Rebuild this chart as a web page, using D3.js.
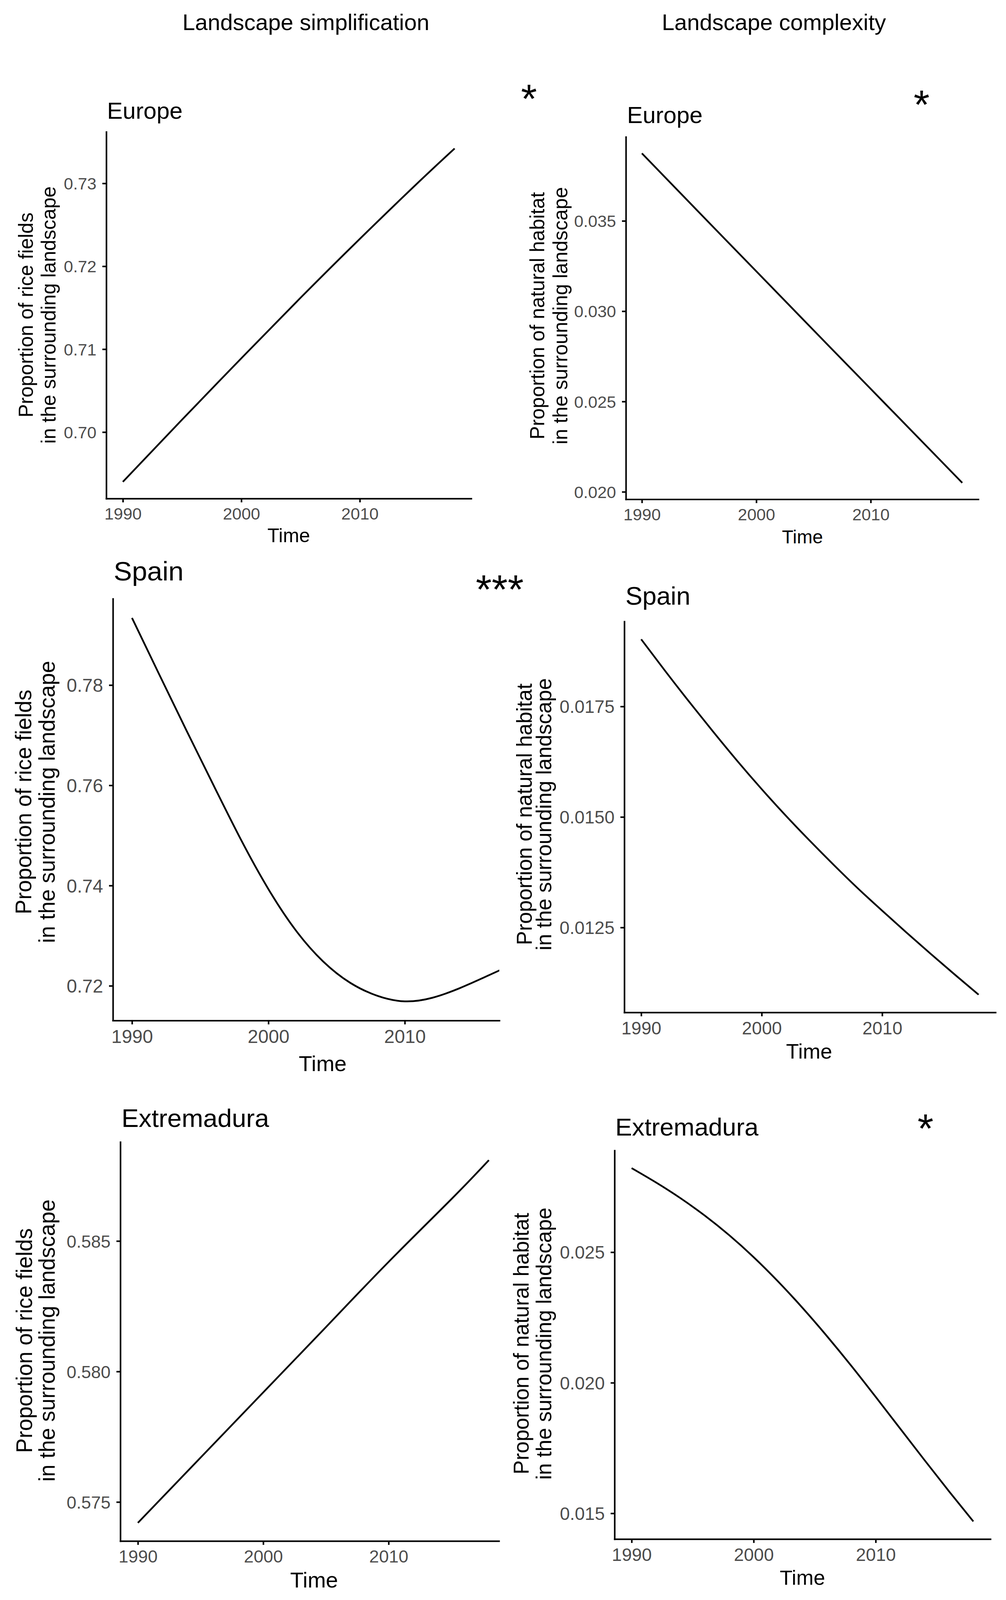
<!DOCTYPE html>
<html lang="en">
<head>
  <meta charset="UTF-8">
  <title>Landscape simplification and complexity over time</title>
  <script src="https://d3js.org/d3.v7.min.js"></script>
  <style>
    html, body { margin: 0; padding: 0; background: #fff; overflow: hidden; }
    svg { display: block; width: 100vw; height: 100vh; font-family: "Liberation Sans", Arial, Helvetica, sans-serif; }
    .axis path, .axis line { stroke: #000; stroke-width: 4px; }
    .axis text { fill: #4d4d4d; }
    .trend { fill: none; stroke: #000; stroke-width: 4.5px; stroke-linecap: butt; }
    .title { fill: #000; }
  </style>
</head>
<body>
  <svg id="chart" viewBox="0 0 2575 4150" preserveAspectRatio="none"></svg>

  <script>
    // ---- data ----
    const columnTitles = ["Landscape simplification", "Landscape complexity"];
    const riceTitle = ["Proportion of rice fields", "in the surrounding landscape"];
    const habitatTitle = ["Proportion of natural habitat", "in the surrounding landscape"];
    const xLabel = "Time";
    const xTicks = [1990, 2000, 2010];

    const years5 = [1990, 1995, 2000, 2005, 2010, 2015, 2018];
    const years2 = [1990, 1992, 1994, 1996, 1998, 2000, 2002, 2004, 2006, 2008, 2010, 2012, 2014, 2016, 2018];

    const europeRice = [0.6940, 0.7015, 0.7089, 0.7162, 0.7233, 0.7302, 0.7342];
    const europeHabitat = [0.03874, 0.03547, 0.03221, 0.02895, 0.02570, 0.02245, 0.02050];
    const spainRice = [0.7934, 0.7821, 0.7709, 0.7599, 0.7491, 0.7393, 0.7311, 0.7249,
                       0.7206, 0.7180, 0.7169, 0.7176, 0.7195, 0.7219, 0.7244];
    const spainHabitat = [0.01902, 0.01830, 0.01760, 0.01692, 0.01626, 0.01563, 0.01503, 0.01446,
                          0.01391, 0.01338, 0.01288, 0.01239, 0.01191, 0.01144, 0.01098];
    const extremaduraRice = [0.5742, 0.5767, 0.5792, 0.5817, 0.5842, 0.5866, 0.5881];
    const extremaduraHabitat = [0.02822, 0.02767, 0.02707, 0.02640, 0.02565, 0.02481, 0.02388, 0.02287,
                                0.02179, 0.02065, 0.01946, 0.01825, 0.01704, 0.01585, 0.01469];

    const europeRiceTicks = [0.70, 0.71, 0.72, 0.73];
    const europeHabitatTicks = [0.020, 0.025, 0.030, 0.035];
    const spainRiceTicks = [0.72, 0.74, 0.76, 0.78];
    const spainHabitatTicks = [0.0125, 0.0150, 0.0175];
    const extremaduraRiceTicks = [0.575, 0.580, 0.585];
    const extremaduraHabitatTicks = [0.015, 0.020, 0.025];

    const panels = [
      { region: "Europe", years: years5, values: europeRice, ticks: europeRiceTicks, fmt: ".2f", yTitle: riceTitle, star: "*" },
      { region: "Europe", years: years5, values: europeHabitat, ticks: europeHabitatTicks, fmt: ".3f", yTitle: habitatTitle, star: "*" },
      { region: "Spain", years: years2, values: spainRice, ticks: spainRiceTicks, fmt: ".2f", yTitle: riceTitle, star: "***" },
      { region: "Spain", years: years2, values: spainHabitat, ticks: spainHabitatTicks, fmt: ".4f", yTitle: habitatTitle, star: "" },
      { region: "Extremadura", years: years5, values: extremaduraRice, ticks: extremaduraRiceTicks, fmt: ".3f", yTitle: riceTitle, star: "" },
      { region: "Extremadura", years: years2, values: extremaduraHabitat, ticks: extremaduraHabitatTicks, fmt: ".3f", yTitle: habitatTitle, star: "*" }
    ];

    // ---- page layout (pixels) ----
    const layout = [
      { l: 272, r: 1206, t: 342, b: 1293, xEnd: 2019.4, titleX: 274, titleY: 308, titleSize: 60, tickFont: 43,
        yTitleX: [66, 124], yTitleY: 817, yTitleSize: 52, timeX: 739, timeY: 1406, timeSize: 50, starX: 1354, starY: 232 },
      { l: 1602, r: 2504, t: 355, b: 1295, xEnd: 2019.4, titleX: 1605, titleY: 319, titleSize: 60, tickFont: 43,
        yTitleX: [1375, 1434], yTitleY: 819, yTitleSize: 52, timeX: 2054, timeY: 1409, timeSize: 48, starX: 2359, starY: 248 },
      { l: 289, r: 1278, t: 1553, b: 2647, xEnd: 2016.93, titleX: 291, titleY: 1506, titleSize: 70, tickFont: 48,
        yTitleX: [60, 120], yTitleY: 2080, yTitleSize: 57, timeX: 826, timeY: 2778, timeSize: 56, starX: 1279, starY: 1505 },
      { l: 1598, r: 2548, t: 1612, b: 2626, xEnd: 2019.4, titleX: 1601, titleY: 1568, titleSize: 65, tickFont: 46,
        yTitleX: [1342, 1392], yTitleY: 2112, yTitleSize: 55, timeX: 2071, timeY: 2746, timeSize: 54 },
      { l: 308, r: 1277, t: 2962, b: 3997, xEnd: 2018.8, titleX: 311, titleY: 2923, titleSize: 66, tickFont: 45,
        yTitleX: [62, 120], yTitleY: 3477, yTitleSize: 57, timeX: 804, timeY: 4118, timeSize: 56 },
      { l: 1573, r: 2535, t: 2984, b: 3992, xEnd: 2019.4, titleX: 1575, titleY: 2945, titleSize: 64, tickFont: 46,
        yTitleX: [1334, 1392], yTitleY: 3485, yTitleSize: 55, timeX: 2054, timeY: 4111, timeSize: 53, starX: 2369, starY: 2903 }
    ];
    const headerPos = [{ x: 783, y: 78 }, { x: 1981, y: 78 }];
    const headerSize = 58;
    const starSize = 105;

    const svg = d3.select("#chart");

    // column headers
    svg.selectAll("text.header")
      .data(columnTitles)
      .join("text")
      .attr("class", "header title")
      .attr("x", (d, i) => headerPos[i].x)
      .attr("y", (d, i) => headerPos[i].y)
      .attr("text-anchor", "middle")
      .attr("font-size", headerSize)
      .text(d => d);

    const defs = svg.append("defs");

    panels.forEach((p, i) => {
      const L = layout[i];
      const g = svg.append("g");

      // ggplot-style 5% expansion on both axes
      const xExt = d3.extent(p.years);
      const xPad = (xExt[1] - xExt[0]) * 0.05;
      const x = d3.scaleLinear()
        .domain([xExt[0] - xPad, L.xEnd])
        .range([L.l, L.r]);

      const yExt = d3.extent(p.values);
      const yPad = (yExt[1] - yExt[0]) * 0.05;
      const y = d3.scaleLinear()
        .domain([yExt[0] - yPad, yExt[1] + yPad])
        .range([L.b, L.t]);

      defs.append("clipPath")
        .attr("id", "clip" + i)
        .append("rect")
        .attr("x", L.l)
        .attr("y", L.t - 10)
        .attr("width", L.r - L.l)
        .attr("height", L.b - L.t + 20);

      // fitted trend
      const line = d3.line()
        .x((d, k) => x(p.years[k]))
        .y(d => y(d))
        .curve(d3.curveNatural);

      g.append("path")
        .datum(p.values)
        .attr("class", "trend")
        .attr("clip-path", `url(#clip${i})`)
        .attr("d", line);

      // axes
      const xAxis = g.append("g")
        .attr("class", "axis")
        .attr("transform", `translate(0,${L.b})`)
        .call(d3.axisBottom(x).tickValues(xTicks).tickFormat(d3.format("d"))
          .tickSize(10).tickSizeOuter(0).tickPadding(14));
      xAxis.selectAll("text")
        .attr("font-size", L.tickFont)
        .attr("font-family", "Liberation Sans, Arial, sans-serif");

      const yAxis = g.append("g")
        .attr("class", "axis")
        .attr("transform", `translate(${L.l},0)`)
        .call(d3.axisLeft(y).tickValues(p.ticks).tickFormat(d3.format(p.fmt))
          .tickSize(10).tickSizeOuter(0).tickPadding(15));
      yAxis.selectAll("text")
        .attr("font-size", L.tickFont)
        .attr("font-family", "Liberation Sans, Arial, sans-serif")
        .attr("dy", "0.36em");
      [xAxis, yAxis].forEach(a => a.select(".domain").attr("stroke-linecap", "square"));

      // panel title
      g.append("text")
        .attr("class", "title")
        .attr("x", L.titleX)
        .attr("y", L.titleY)
        .attr("font-size", L.titleSize)
        .text(p.region);

      // x axis title
      g.append("text")
        .attr("class", "title")
        .attr("x", L.timeX)
        .attr("y", L.timeY)
        .attr("text-anchor", "middle")
        .attr("font-size", L.timeSize)
        .text(xLabel);

      // y axis title, two lines
      p.yTitle.forEach((txt, k) => {
        g.append("text")
          .attr("class", "title")
          .attr("transform", `translate(${L.yTitleX[k]},${L.yTitleY}) rotate(-90)`)
          .attr("text-anchor", "middle")
          .attr("dy", "0.35em")
          .attr("font-size", L.yTitleSize)
          .text(txt);
      });

      // significance stars
      if (p.star) {
        g.append("text")
          .attr("class", "title")
          .attr("x", L.starX)
          .attr("y", L.starY + starSize * 0.575)
          .attr("text-anchor", "middle")
          .attr("font-size", starSize)
          .text(p.star);
      }
    });
  </script>
</body>
</html>
